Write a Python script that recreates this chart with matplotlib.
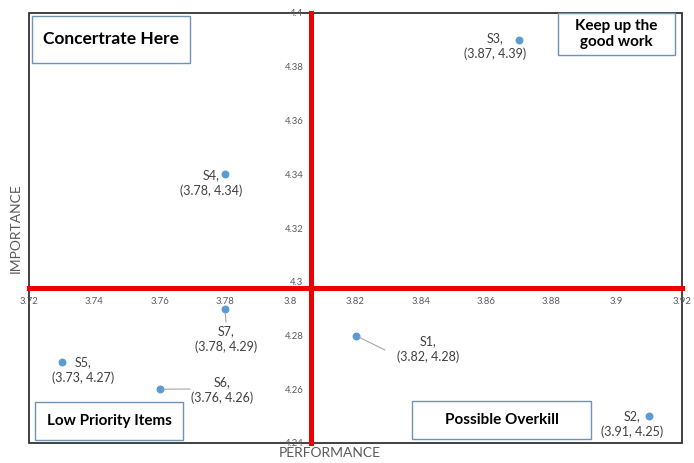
import matplotlib
matplotlib.use("Agg")
import matplotlib.pyplot as plt
from matplotlib.patches import Rectangle
from matplotlib.ticker import FuncFormatter

plt.rcParams['font.family'] = ['Lato', 'DejaVu Sans']

# data
names = ['S1', 'S2', 'S3', 'S4', 'S5', 'S6', 'S7']
performance = [3.82, 3.91, 3.87, 3.78, 3.73, 3.76, 3.78]
importance = [4.28, 4.25, 4.39, 4.34, 4.27, 4.26, 4.29]
x_cross = 3.8064   # where the axes cross (red lines)
y_cross = 4.2975

xticks = [3.72, 3.74, 3.76, 3.78, 3.80, 3.82, 3.84, 3.86, 3.88, 3.90, 3.92]
yticks = [4.24, 4.26, 4.28, 4.30, 4.32, 4.34, 4.36, 4.38, 4.40]

W, H = 694, 463
fig = plt.figure(figsize=(W / 100, H / 100), dpi=100)
L, R, T, B = 29, 682, 13, 443
ax = fig.add_axes([L / W, (H - B) / H, (R - L) / W, (B - T) / H])


def axfrac(px, py):
    # pixel position in the picture -> axes fraction
    return (px - L) / (R - L), (B - py) / (B - T)


ax.set_xlim(3.72, 3.92)
ax.set_ylim(4.24, 4.40)
ax.set_xticks(xticks)
ax.set_yticks(yticks)
fmt = FuncFormatter(lambda v, p: '%g' % round(v, 2))
ax.xaxis.set_major_formatter(fmt)
ax.yaxis.set_major_formatter(fmt)

# red quadrant lines are the axes themselves
for side, pos in (('left', x_cross), ('bottom', y_cross)):
    ax.spines[side].set_position(('data', pos))
    ax.spines[side].set_color('#EE0000')
    ax.spines[side].set_linewidth(3.6)
    ax.spines[side].set_zorder(1)
for side in ('top', 'right'):
    ax.spines[side].set_visible(False)
ax.add_patch(Rectangle((0, 0), 1, 1, transform=ax.transAxes, fill=False,
                       edgecolor='#333333', linewidth=1.3, clip_on=False, zorder=0))

ax.tick_params(axis='both', colors='#EE0000', length=3, width=2, direction='inout',
               labelsize=6.8, labelcolor='#595959')
ax.tick_params(axis='x', pad=5)
ax.tick_params(axis='y', pad=4)

ax.scatter(performance, importance, s=22, color='#5B9BD5', zorder=3)

# data labels: text centre in px, leader line end in px (or None)
label_pos = {
    'S1': (428, 349, (385, 350)),
    'S2': (632, 424, None),
    'S3': (495, 46, None),
    'S4': (211, 183, None),
    'S5': (83, 370, None),
    'S6': (222, 390, (190, 389)),
    'S7': (226, 339, (226, 322)),
}
for n, x, y in zip(names, performance, importance):
    px, py, leader = label_pos[n]
    txt = '%s,\n(%g, %g)' % (n, x, y)
    if leader:
        ax.annotate('', xy=(x, y), xytext=axfrac(*leader), textcoords='axes fraction',
                    arrowprops=dict(arrowstyle='-', color='#A6A6A6', lw=0.8,
                                    shrinkA=0, shrinkB=3))
    ax.text(*axfrac(px, py), txt, transform=ax.transAxes, ha='center',
            va='center', fontsize=9, color='#404040', linespacing=1.35)

# quadrant boxes (pixel rectangles)
boxes = [
    ('Concertrate Here', 32, 16, 190, 63, 12.5),
    ('Keep up the\ngood work', 558, 13, 675, 55, 11),
    ('Low Priority Items', 35, 402, 183, 440, 11),
    ('Possible Overkill', 412, 401, 591, 439, 11),
]
for text, x0, y0, x1, y1, fs in boxes:
    fx0, fy1 = axfrac(x0, y0)
    fx1, fy0 = axfrac(x1, y1)
    ax.add_patch(Rectangle((fx0, fy0), fx1 - fx0, fy1 - fy0, transform=ax.transAxes,
                           facecolor='white', edgecolor='#6F93B5', linewidth=1.0,
                           zorder=4, clip_on=False))
    ax.text((fx0 + fx1) / 2, (fy0 + fy1) / 2, text, transform=ax.transAxes,
            ha='center', va='center', fontsize=fs, fontweight='bold',
            color='black', zorder=5, linespacing=1.2)

fig.text(330 / W, 1 - 453 / H, 'PERFORMANCE', ha='center', va='center',
         fontsize=10, color='#595959')
fig.text(16 / W, 1 - 228 / H, 'IMPORTANCE', ha='center', va='center',
         rotation=90, fontsize=10, color='#595959')

fig.savefig('out.png', dpi=100)
